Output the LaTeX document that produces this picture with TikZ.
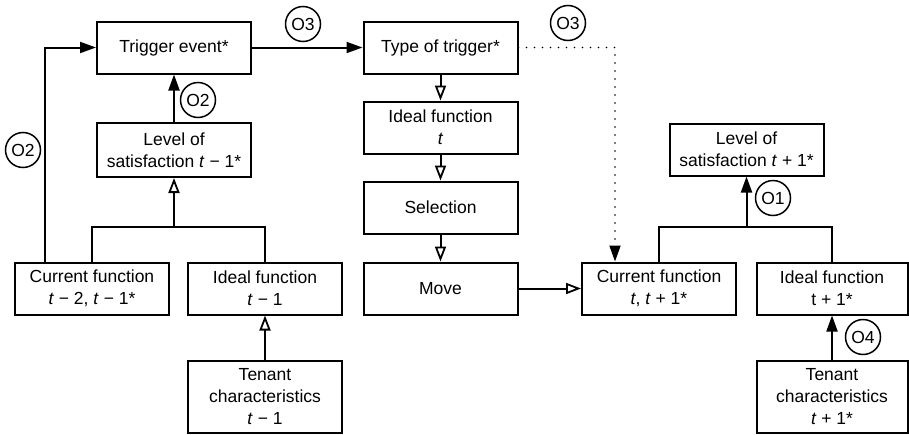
\documentclass[tikz,border=0pt]{standalone}
\usepackage{fontspec}
\setmainfont{Liberation Sans}
\usetikzlibrary{arrows.meta,calc}

\begin{document}
\begin{tikzpicture}[x=1pt,y=-1pt,
  font=\fontsize{17.5}{22}\selectfont,
  box/.style={draw, line width=2pt, rectangle, align=center,
    minimum width=154pt, minimum height=52pt, inner sep=2pt},
  tallbox/.style={box, minimum height=72pt},
  tag/.style={draw, circle, line width=1.5pt, minimum size=35pt, inner sep=0pt},
  link/.style={line width=2pt},
  farrow/.style={link, -{Triangle[length=16pt,width=11pt]}},
  oarrow/.style={link, -{Triangle[open,length=15pt,width=11pt,line width=1.8pt]}},
  dotline/.style={line width=1.8pt, line cap=round, dash pattern=on 0pt off 8pt,
    -{Triangle[length=16pt,width=11pt]}}
]
\useasboundingbox (0,0) rectangle (909,434);

% left column
\node[box] (trig)  at (174,47.5)  {Trigger event*};
\node[box, minimum height=54pt] (lsat1) at (174,150) {Level of\\satisfaction \textit{t} − 1*};
\node[box] (cur1)  at (92,288.5)  {Current function\\\textit{t} − 2, \textit{t} − 1*};
\node[box] (ideal1) at (265,288.5) {Ideal function\\\textit{t} − 1};
\node[tallbox] (ten1) at (265,397) {Tenant\\characteristics\\\textit{t} − 1};

% centre column
\node[box] (type)  at (440.5,47.5)  {Type of trigger*};
\node[box] (idealt) at (440.5,127.5) {Ideal function\\\textit{t}};
\node[box] (sel)   at (440.5,207.5) {Selection};
\node[box] (move)  at (440.5,288.5) {Move};

% right column
\node[box] (lsat2) at (746.5,149.5) {Level of\\satisfaction \textit{t} + 1*};
\node[box] (cur2)  at (659,288.5) {Current function\\\textit{t}, \textit{t} + 1*};
\node[box, minimum width=151pt] (ideal2) at (832,288.5) {Ideal function\\t + 1*};
\node[tallbox, minimum width=151pt] (ten2) at (832,397) {Tenant\\characteristics\\\textit{t} + 1*};

% numbered tags
\node[tag] (tagA) at (23,150)   {O2};
\node[tag] (tagB) at (198,100)  {O2};
\node[tag] (tagC) at (303,24)   {O3};
\node[tag] (tagD) at (568,23)   {O3};
\node[tag] (tagE) at (773,198)  {O1};
\node[tag] (tagF) at (863,337)  {O4};

% left side connectors
\draw[farrow] ($(cur1.north west)+(31,0)$) |- (trig.west);
\draw[farrow] (lsat1.north) -- (trig.south);
\draw[link] (cur1.north) -- ++(0,-35) coordinate (j1) -| (ideal1.north);
\draw[oarrow] (lsat1.south |- j1) -- (lsat1.south);
\draw[oarrow] (ten1.north) -- (ideal1.south);

% trigger to the central chain
\draw[farrow] (trig.east) -- (type.west);
\draw[oarrow] (type.south) -- (idealt.north);
\draw[oarrow] (idealt.south) -- (sel.north);
\draw[oarrow] (sel.south) -- (move.north);
\draw[oarrow] (move.east) -- (cur2.west);

% dotted link from trigger type to the current function
\coordinate (d1) at ($(cur2.north west)+(34,0)$);
\draw[dotline] (type.east) -| (d1);

% right side connectors
\draw[link] (cur2.north) -- ++(0,-35) coordinate (j2) -| (ideal2.north);
\draw[farrow] (lsat2.south |- j2) -- (lsat2.south);
\draw[farrow] (ten2.north) -- (ideal2.south);
\end{tikzpicture}
\end{document}
